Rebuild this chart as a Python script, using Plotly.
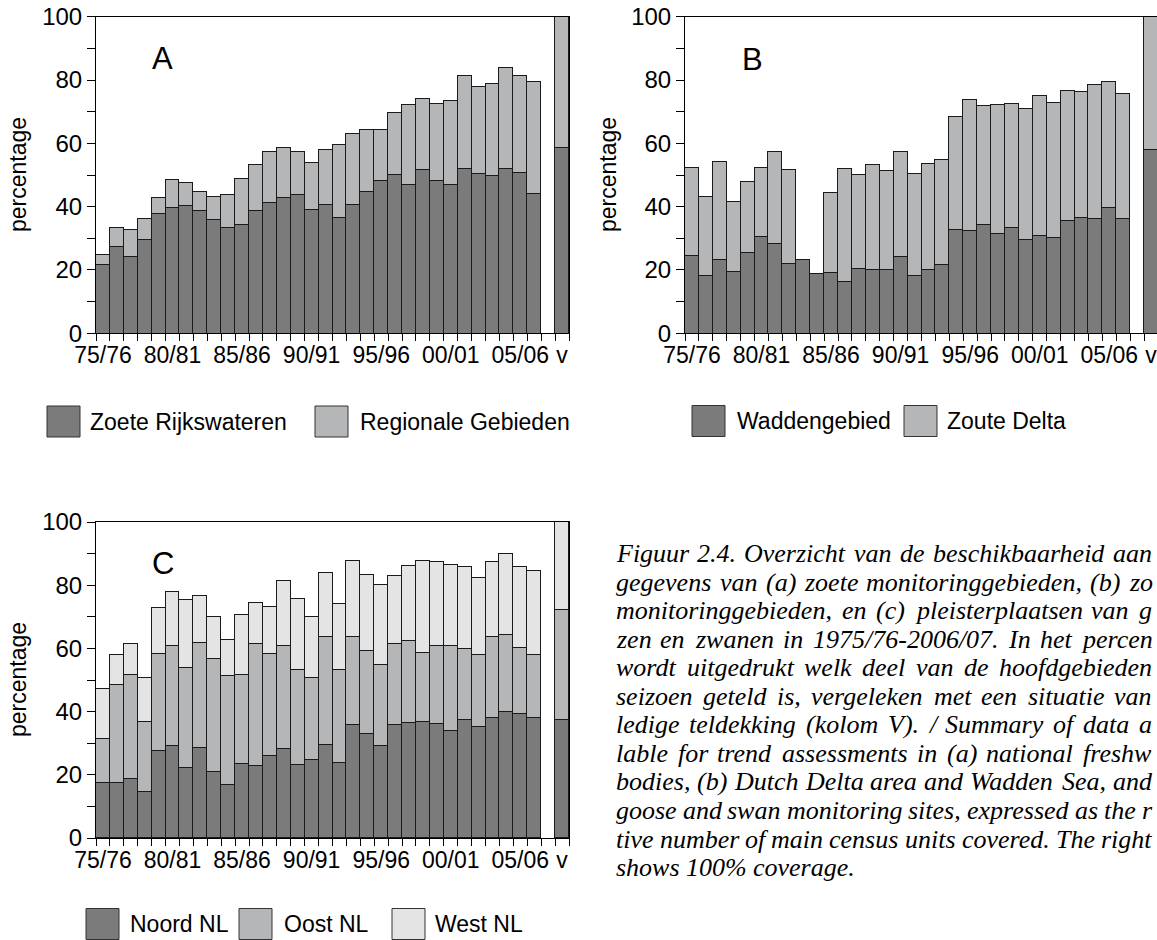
import plotly.graph_objects as go

W, H = 1157, 940

# ---------------- data ----------------
seasons = ["75/76", "76/77", "77/78", "78/79", "79/80", "80/81", "81/82", "82/83",
           "83/84", "84/85", "85/86", "86/87", "87/88", "88/89", "89/90", "90/91",
           "91/92", "92/93", "93/94", "94/95", "95/96", "96/97", "97/98", "98/99",
           "99/00", "00/01", "01/02", "02/03", "03/04", "04/05", "05/06", "06/07"]
tick_labels = ["75/76", "80/81", "85/86", "90/91", "95/96", "00/01", "05/06", "v"]

# Panel A
zoete_rijkswateren = [21.7, 27.2, 24.2, 29.7, 37.7, 39.7, 40.3, 38.8, 36.0, 33.5, 34.4, 38.8,
                      41.3, 42.9, 43.9, 38.9, 40.6, 36.5, 40.7, 44.6, 48.2, 50.1, 46.8, 51.6,
                      48.3, 46.8, 52.1, 50.5, 49.7, 52.1, 50.8, 44.2]
regionale_gebieden = [3.2, 6.0, 8.6, 6.4, 5.2, 8.9, 7.4, 5.8, 7.2, 10.2, 14.3, 14.6,
                      16.2, 15.8, 13.5, 15.0, 17.5, 23.2, 22.5, 19.6, 16.0, 19.5, 25.3, 22.6,
                      24.1, 26.7, 29.2, 27.4, 29.2, 31.9, 30.5, 35.2]
ref_A = [58.6, 41.4]

# Panel B
waddengebied = [24.4, 18.2, 23.2, 19.5, 25.4, 30.6, 28.4, 22.0, 23.2, 18.8, 19.3, 16.4,
                20.4, 20.2, 20.1, 24.3, 18.2, 20.2, 21.7, 32.6, 32.3, 34.4, 31.4, 33.2,
                29.6, 30.9, 30.1, 35.7, 36.6, 36.3, 39.6, 36.3]
zoute_delta = [28.0, 25.0, 31.0, 22.2, 22.5, 21.8, 29.1, 29.7, 0.0, 0.0, 25.2, 35.7,
               29.7, 33.2, 31.3, 33.0, 32.2, 33.4, 33.0, 35.8, 41.4, 37.5, 40.7, 39.3,
               41.3, 44.3, 42.6, 40.8, 39.6, 42.3, 40.0, 39.3]
ref_B = [58.1, 41.9]

# Panel C
noord_nl = [17.4, 17.5, 18.8, 14.6, 27.5, 29.1, 22.1, 28.6, 20.9, 16.9, 23.4, 22.7,
            26.1, 28.2, 23.2, 24.7, 29.4, 23.8, 35.9, 32.8, 29.1, 35.7, 36.5, 36.6,
            36.1, 33.8, 37.2, 35.1, 38.0, 39.8, 39.1, 37.9]
oost_nl = [14.0, 30.9, 32.9, 22.1, 30.7, 31.7, 31.6, 33.2, 35.7, 34.4, 28.1, 38.6,
           32.2, 32.6, 30.0, 26.0, 34.3, 29.4, 27.6, 26.3, 25.7, 25.6, 25.7, 21.9,
           24.6, 27.0, 22.6, 22.9, 25.7, 24.4, 21.1, 19.9]
west_nl = [15.9, 9.6, 9.8, 13.9, 14.5, 17.0, 21.5, 14.7, 13.4, 11.3, 19.0, 13.1,
           14.9, 20.5, 22.4, 19.3, 20.3, 20.7, 24.3, 24.0, 25.3, 21.6, 24.0, 29.1,
           26.5, 25.7, 25.9, 24.4, 23.6, 25.6, 25.6, 26.7]
ref_C = [37.2, 35.0, 27.8]

# caption (as far as it is visible in the picture)
caption_lines = [
    "Figuur 2.4. Overzicht van de beschikbaarheid aan",
    "gegevens van (a) zoete monitoringgebieden, (b) zo",
    "monitoringgebieden, en (c) pleisterplaatsen van g",
    "zen en zwanen in 1975/76-2006/07. In het percen",
    "wordt uitgedrukt welk deel van de hoofdgebieden",
    "seizoen geteld is, vergeleken met een situatie van",
    "ledige teldekking (kolom V). / Summary of data a",
    "lable for trend assessments in (a) national freshw",
    "bodies, (b) Dutch Delta area and Wadden Sea, and",
    "goose and swan monitoring sites, expressed as the r",
    "tive number of main census units covered. The right",
    "shows 100% coverage.",
]

# ---------------- style ----------------
DARK = "#7b7b7b"
MID = "#b5b6b7"
LIGHT = "#e3e4e3"
EDGE = "#1a1a1a"
SANS = "Liberation Sans, Arial, sans-serif"
SERIF = "Liberation Serif, Times New Roman, serif"


def px_x(p):
    return p / W


def px_y(p):
    return 1 - p / H


n = len(seasons)
xpos = list(range(n)) + [n + 1]
label_pos = [seasons.index(t) for t in tick_labels[:-1]] + [n + 1]
boundaries = [i - 0.5 for i in range(n + 3)]

fig = go.Figure()


def add_series(values, ref_value, name, color, xa, ya):
    fig.add_trace(go.Bar(
        x=xpos, y=list(values) + [ref_value], name=name,
        marker=dict(color=color, line=dict(color=EDGE, width=1)),
        xaxis=xa, yaxis=ya, showlegend=False, width=1.0,
    ))


add_series(zoete_rijkswateren, ref_A[0], "Zoete Rijkswateren", DARK, "x", "y")
add_series(regionale_gebieden, ref_A[1], "Regionale Gebieden", MID, "x", "y")
add_series(waddengebied, ref_B[0], "Waddengebied", DARK, "x2", "y2")
add_series(zoute_delta, ref_B[1], "Zoute Delta", MID, "x2", "y2")
add_series(noord_nl, ref_C[0], "Noord NL", DARK, "x3", "y3")
add_series(oost_nl, ref_C[1], "Oost NL", MID, "x3", "y3")
add_series(west_nl, ref_C[2], "West NL", LIGHT, "x3", "y3")

slot = 473 / (n + 2)


def xaxis_cfg(left, right, rng, anchor):
    return dict(
        domain=[px_x(left), min(1.0, px_x(right))], range=rng, anchor=anchor,
        automargin=False,
        showline=True, linecolor="black", linewidth=1, mirror=True,
        showgrid=False, zeroline=False,
        tickmode="array", tickvals=label_pos, ticktext=tick_labels,
        ticks="", ticklabelstandoff=1, ticklabeloverflow="allow",
        tickfont=dict(family=SANS, size=23, color="black"),
        minor=dict(tickmode="array", tickvals=boundaries, ticks="outside",
                   ticklen=7, tickwidth=1, tickcolor="black", showgrid=False),
    )


def yaxis_cfg(top, bottom, anchor):
    return dict(
        domain=[px_y(bottom), px_y(top)], range=[0, 100], anchor=anchor,
        automargin=False,
        showline=True, linecolor="black", linewidth=1, mirror=True,
        showgrid=False, zeroline=False,
        tickmode="array", tickvals=[0, 20, 40, 60, 80, 100],
        ticks="outside", ticklen=8, tickwidth=1, tickcolor="black",
        tickfont=dict(family=SANS, size=24, color="black"),
        minor=dict(tickmode="array", tickvals=[10, 30, 50, 70, 90], ticks="outside",
                   ticklen=8, tickwidth=1, tickcolor="black", showgrid=False),
    )


full_rng = [-0.5, n + 1.5]
b_rng = [-0.5, -0.5 + (W - 685) / slot]

fig.update_layout(
    template="none",
    width=W, height=H, margin=dict(l=0, r=0, t=0, b=0, pad=0),
    paper_bgcolor="white", plot_bgcolor="white",
    barmode="stack", bargap=0,
    xaxis=xaxis_cfg(96, 569, full_rng, "y"),
    yaxis=yaxis_cfg(16.7, 333.3, "x"),
    xaxis2=xaxis_cfg(685, 1158, b_rng, "y2"),
    yaxis2=yaxis_cfg(16.7, 333.3, "x2"),
    xaxis3=xaxis_cfg(96, 569, full_rng, "y3"),
    yaxis3=yaxis_cfg(522, 838, "x3"),
    showlegend=False,
)

ann = []
shapes = []


def text_px(x, y, txt, size=23, xanchor="left", family=SANS, angle=0):
    ann.append(dict(x=px_x(x), y=px_y(y), xref="paper", yref="paper", text=txt,
                    showarrow=False, xanchor=xanchor, yanchor="middle", textangle=angle,
                    font=dict(family=family, size=size, color="black")))


# axis titles
text_px(18, 175, "percentage", angle=-90, xanchor="center")
text_px(608, 175, "percentage", angle=-90, xanchor="center")
text_px(18, 680, "percentage", angle=-90, xanchor="center")

# panel letters
text_px(163, 59, "A", size=31, xanchor="center")
text_px(752, 60, "B", size=31, xanchor="center")
text_px(163, 563, "C", size=31, xanchor="center")


def legend_item(x0, y_c, color, label, tx):
    shapes.append(dict(type="rect", xref="paper", yref="paper",
                       x0=px_x(x0), x1=px_x(x0 + 33), y0=px_y(y_c + 15.5), y1=px_y(y_c - 15.5),
                       fillcolor=color, line=dict(color="#333333", width=1)))
    text_px(tx, y_c, label)


legend_item(47, 421.5, DARK, "Zoete Rijkswateren", 88)
legend_item(315, 421.5, MID, "Regionale Gebieden", 358)
legend_item(692, 421, DARK, "Waddengebied", 735)
legend_item(904, 421, MID, "Zoute Delta", 945)
legend_item(86, 924, DARK, "Noord NL", 128)
legend_item(239, 924, MID, "Oost NL", 282)
legend_item(392, 924, LIGHT, "West NL", 433)

# caption: justified, word by word (Times italic advance widths, per 1000 em)
TW = {' ': 250, 'a': 500, 'b': 500, 'c': 444, 'd': 500, 'e': 444, 'f': 278, 'g': 500,
      'h': 500, 'i': 278, 'j': 278, 'k': 444, 'l': 278, 'm': 722, 'n': 500, 'o': 500,
      'p': 500, 'q': 500, 'r': 389, 's': 389, 't': 278, 'u': 500, 'v': 444, 'w': 667,
      'x': 444, 'y': 444, 'z': 389, 'A': 611, 'B': 611, 'C': 667, 'D': 722, 'F': 611,
      'I': 333, 'O': 722, 'S': 500, 'T': 556, 'V': 611, 'W': 833, '.': 250, ',': 250,
      '(': 333, ')': 333, '/': 278, '-': 333, '%': 833}
CAP_SIZE = 26
CAP_LEFT = 614
CAP_RIGHT = 1150


def word_w(w):
    return sum(TW.get(ch, 500) for ch in w) * CAP_SIZE / 1000.0


for i, line in enumerate(caption_lines):
    y = 553.5 + 28.55 * i
    words = line.split(" ")
    widths = [word_w(w) for w in words]
    space = TW[' '] * CAP_SIZE / 1000.0
    if i < len(caption_lines) - 1 and len(words) > 1:
        gap = (CAP_RIGHT - CAP_LEFT - sum(widths)) / (len(words) - 1)
        gap = max(gap, 3.0)
    else:
        gap = space
    x = CAP_LEFT
    for w, wd in zip(words, widths):
        text_px(x, y, "<i>" + w + "</i>", size=CAP_SIZE, family=SERIF)
        x += wd + gap

fig.update_layout(annotations=ann, shapes=shapes)

fig.write_html("out.html",
               config={"displayModeBar": False},
               post_script="document.body.style.margin='0px';"
                           "document.body.style.overflow='hidden';")
